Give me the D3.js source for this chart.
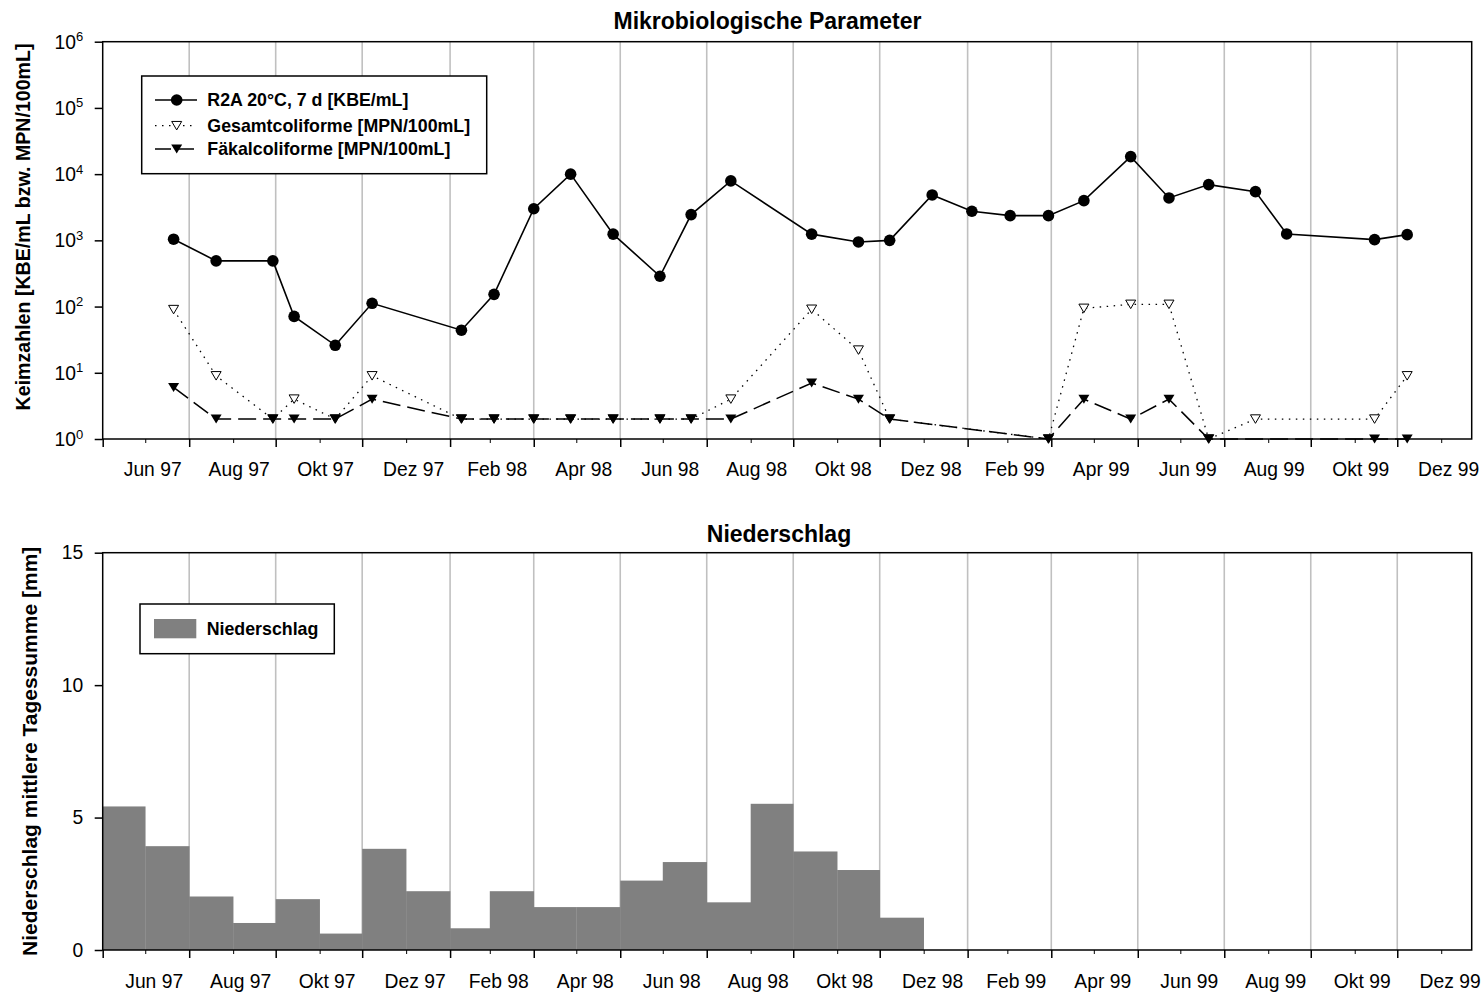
<!DOCTYPE html>
<html>
<head>
<meta charset="utf-8">
<script src="https://cdn.jsdelivr.net/npm/d3@7"></script>
<style>
  body { margin: 0; background: #fff; }
  text { font-family: "Liberation Sans", Arial, sans-serif; fill: #000; }
  .tick text { font-size: 19.3px; }
  .title { font-size: 23px; font-weight: bold; }
  .axis-label { font-weight: bold; }
  .legend { font-size: 17.8px; font-weight: bold; }
</style>
</head>
<body>
<svg width="1484" height="997"></svg>
<script>
const svg = d3.select('svg');

// sampling dates (top chart)
const sampleDates = ['1997-07-21','1997-08-20','1997-09-29','1997-10-14','1997-11-12','1997-12-08',
  '1998-02-09','1998-03-04','1998-04-01','1998-04-27','1998-05-27','1998-06-29','1998-07-21',
  '1998-08-18','1998-10-14','1998-11-16','1998-12-08','1999-01-07','1999-02-04','1999-03-03',
  '1999-03-30','1999-04-24','1999-05-27','1999-06-23','1999-07-21','1999-08-23','1999-09-14',
  '1999-11-15','1999-12-08'];

const r2a = [1040, 490, 490, 71, 26, 112, 44, 153, 3000, 10000, 1240, 287, 2450,
  7900, 1240, 946, 1000, 4850, 2750, 2360, 2360, 3980, 18400, 4370, 6950, 5440, 1250,
  1025, 1220];
const gesamt = [90, 9, 2, 4, 2, 9, 2, 2, 2, 2, 2, 2, 2,
  4, 91, 22, 2, null, null, null, 1, 94, 108, 108, 1, 2, null,
  2, 9];
const faekal = [6, 2, 2, 2, 2, 4, 2, 2, 2, 2, 2, 2, 2,
  2, 7, 4, 2, null, null, null, 1, 4, 2, 4, 1, null, null,
  1, 1];

// monthly precipitation (bottom chart)
const rainMonths = ['1997-06','1997-07','1997-08','1997-09','1997-10','1997-11','1997-12',
  '1998-01','1998-02','1998-03','1998-04','1998-05','1998-06','1998-07','1998-08',
  '1998-09','1998-10','1998-11','1998-12'];
const rain = [5.42, 3.92, 2.02, 1.02, 1.92, 0.62, 3.82, 2.22, 0.82, 2.22, 1.62, 1.62,
  2.62, 3.32, 1.8, 5.52, 3.72, 3.02, 1.22];

const xTickLabels = ['Jun 97','Aug 97','Okt 97','Dez 97','Feb 98','Apr 98','Jun 98','Aug 98',
  'Okt 98','Dez 98','Feb 99','Apr 99','Jun 99','Aug 99','Okt 99','Dez 99'];
const logTicks = [1, 10, 100, 1000, 10000, 100000, 1000000];
const rainTicks = [0, 5, 10, 15];

const parseDay = d3.timeParse('%Y-%m-%d');
const parseMonth = d3.timeParse('%Y-%m');

const left = 102.7, right = 1471.7;
const x = d3.scaleTime()
  .domain([new Date(1997, 5, 1), new Date(2000, 0, 22, 12)])
  .range([left, right]);

const majorTicks = d3.timeMonths(new Date(1997, 5, 1), new Date(2000, 0, 23), 2);
const minorTicks = d3.timeMonths(new Date(1997, 6, 1), new Date(2000, 0, 23), 2);
const labelTicks = d3.timeMonths(new Date(1997, 7, 1), new Date(2000, 1, 2), 2);

function drawFrame(top, bottom, labelOffset, labelDy) {
  const g = svg.append('g');
  // grid
  g.selectAll('line.grid').data(majorTicks.slice(1)).enter().append('line')
    .attr('x1', d => x(d)).attr('x2', d => x(d))
    .attr('y1', top).attr('y2', bottom)
    .attr('stroke', '#c0c0c0').attr('stroke-width', 1.6);

  const xAxisMajor = d3.axisBottom(x).tickValues(majorTicks).tickSize(8).tickFormat('');
  const xAxisMinor = d3.axisBottom(x).tickValues(minorTicks).tickSize(4).tickFormat('');
  const axG = svg.append('g').attr('transform', `translate(0,${bottom})`);
  axG.append('g').call(xAxisMajor).call(s => s.select('.domain').remove())
    .selectAll('line').attr('stroke-width', 1.5);
  axG.append('g').call(xAxisMinor).call(s => s.select('.domain').remove());

  axG.selectAll('text.xl').data(labelTicks).enter().append('text')
    .attr('class', 'xl')
    .attr('x', d => x(d) - labelOffset)
    .attr('y', labelDy)
    .attr('text-anchor', 'middle')
    .style('font-size', '19.3px')
    .text((d, i) => xTickLabels[i]);
  return g;
}

function drawBorder(top, bottom) {
  svg.append('rect')
    .attr('x', left).attr('y', top)
    .attr('width', right - left).attr('height', bottom - top)
    .attr('fill', 'none').attr('stroke', '#000').attr('stroke-width', 1.5);
}

// ---------- top chart ----------
const top1 = 41.7, bottom1 = 439;
const yLog = d3.scaleLog().domain([1, 1e6]).range([bottom1, top1]);

drawFrame(top1, bottom1, 36.5, 36.5);

const yAxisTop = d3.axisLeft(yLog).tickValues(logTicks).tickSize(8).tickFormat('');
const yTopG = svg.append('g').attr('transform', `translate(${left},0)`).call(yAxisTop);
yTopG.select('.domain').remove();
yTopG.selectAll('line').attr('stroke-width', 1.5);
logTicks.forEach(v => {
  const t = yTopG.append('text')
    .attr('x', -19.4)
    .attr('y', yLog(v) + 7)
    .attr('text-anchor', 'end');
  t.append('tspan').style('font-size', '19.3px').text('10');
  t.append('tspan').style('font-size', '13px').attr('dy', -7.5).text(Math.round(Math.log10(v)));
});

drawBorder(top1, bottom1);

const mkSeries = vals => sampleDates
  .map((d, i) => ({ date: parseDay(d), v: vals[i] }))
  .filter(d => d.v != null);

const line = y => d3.line().x(d => x(d.date)).y(d => y(d.v));

const r2aData = mkSeries(r2a);
const gesData = mkSeries(gesamt);
const faeData = mkSeries(faekal);

const plotG = svg.append('g');

const triDown = (w, h) => `M${-w / 2},${-h / 2}L${w / 2},${-h / 2}L0,${h / 2}Z`;

// R2A
plotG.append('path').datum(r2aData)
  .attr('d', line(yLog))
  .attr('fill', 'none').attr('stroke', '#000').attr('stroke-width', 1.6);
plotG.selectAll('circle.r2a').data(r2aData).enter().append('circle')
  .attr('class', 'r2a')
  .attr('cx', d => x(d.date)).attr('cy', d => yLog(d.v)).attr('r', 5.8)
  .attr('fill', '#000');

// Gesamtcoliforme
plotG.append('path').datum(gesData)
  .attr('d', line(yLog))
  .attr('fill', 'none').attr('stroke', '#000').attr('stroke-width', 1.3)
  .attr('stroke-dasharray', '1.5,5.5');
plotG.selectAll('path.ges').data(gesData).enter().append('path')
  .attr('class', 'ges')
  .attr('transform', d => `translate(${x(d.date)},${yLog(d.v)})`)
  .attr('d', triDown(10, 8.5))
  .attr('fill', '#fff').attr('stroke', '#000').attr('stroke-width', 1);

// Faekalcoliforme
plotG.append('path').datum(faeData)
  .attr('d', line(yLog))
  .attr('fill', 'none').attr('stroke', '#000').attr('stroke-width', 1.5)
  .attr('stroke-dasharray', '18,7');
plotG.selectAll('path.fae').data(faeData).enter().append('path')
  .attr('class', 'fae')
  .attr('transform', d => `translate(${x(d.date)},${yLog(d.v)})`)
  .attr('d', triDown(11, 9))
  .attr('fill', '#000');

// legend top
const legG = svg.append('g');
legG.append('rect')
  .attr('x', 141.7).attr('y', 76).attr('width', 345).attr('height', 97.7)
  .attr('fill', '#fff').attr('stroke', '#000').attr('stroke-width', 1.5);
const legRows = [
  { y: 100, label: 'R2A 20°C, 7 d [KBE/mL]', dash: null, w: 1.6 },
  { y: 125.7, label: 'Gesamtcoliforme [MPN/100mL]', dash: '1.5,5.5', w: 1.3 },
  { y: 149, label: 'Fäkalcoliforme [MPN/100mL]', dash: '16,7', w: 1.5 }
];
legRows.forEach((r, i) => {
  legG.append('line')
    .attr('x1', 155).attr('x2', 197).attr('y1', r.y).attr('y2', r.y)
    .attr('stroke', '#000').attr('stroke-width', r.w)
    .attr('stroke-dasharray', r.dash);
  if (i === 0) {
    legG.append('circle').attr('cx', 176.7).attr('cy', r.y).attr('r', 5.8).attr('fill', '#000');
  } else if (i === 1) {
    legG.append('path').attr('transform', `translate(176.7,${r.y})`)
      .attr('d', triDown(10, 8.5)).attr('fill', '#fff').attr('stroke', '#000');
  } else {
    legG.append('path').attr('transform', `translate(176.7,${r.y})`)
      .attr('d', triDown(11, 9)).attr('fill', '#000');
  }
  legG.append('text')
    .attr('class', 'legend')
    .attr('x', 207.3).attr('y', r.y + 6.3)
    .text(r.label);
});

svg.append('text')
  .attr('class', 'title')
  .attr('x', 767.5).attr('y', 29)
  .attr('text-anchor', 'middle')
  .text('Mikrobiologische Parameter');

svg.append('text')
  .attr('class', 'axis-label')
  .style('font-size', '19.6px')
  .attr('transform', `translate(29.5,43.5) rotate(-90)`)
  .attr('text-anchor', 'end')
  .text('Keimzahlen [KBE/mL bzw. MPN/100mL]');

// ---------- bottom chart ----------
const top2 = 552.7, bottom2 = 950;
const yLin = d3.scaleLinear().domain([0, 15]).range([bottom2, top2]);

drawFrame(top2, bottom2, 35, 37.8);

const rainData = rainMonths.map((m, i) => ({ start: parseMonth(m), v: rain[i] }));
svg.append('g').selectAll('rect').data(rainData).enter().append('rect')
  .attr('x', d => x(d.start))
  .attr('width', d => x(d3.timeMonth.offset(d.start, 1)) - x(d.start) + 0.3)
  .attr('y', d => yLin(d.v))
  .attr('height', d => yLin(0) - yLin(d.v))
  .attr('fill', '#808080');

const yAxisBot = d3.axisLeft(yLin).tickValues(rainTicks).tickSize(8).tickPadding(11.4);
const yBotG = svg.append('g').attr('transform', `translate(${left},0)`).call(yAxisBot);
yBotG.select('.domain').remove();
yBotG.selectAll('line').attr('stroke-width', 1.5);
yBotG.selectAll('text').style('font-size', '19.3px').attr('fill', '#000')
  .style('font-family', '"Liberation Sans", Arial, sans-serif');

drawBorder(top2, bottom2);

const leg2 = svg.append('g');
leg2.append('rect')
  .attr('x', 140).attr('y', 604).attr('width', 194.3).attr('height', 49.7)
  .attr('fill', '#fff').attr('stroke', '#000').attr('stroke-width', 1.5);
leg2.append('rect')
  .attr('x', 154).attr('y', 619).attr('width', 42.3).attr('height', 19.3)
  .attr('fill', '#808080');
leg2.append('text')
  .attr('class', 'legend')
  .attr('x', 206.7).attr('y', 635)
  .text('Niederschlag');

svg.append('text')
  .attr('class', 'title')
  .attr('x', 779).attr('y', 542)
  .attr('text-anchor', 'middle')
  .text('Niederschlag');

svg.append('text')
  .attr('class', 'axis-label')
  .style('font-size', '21px')
  .attr('transform', `translate(36.7,546.7) rotate(-90)`)
  .attr('text-anchor', 'end')
  .text('Niederschlag mittlere Tagessumme [mm]');
</script>
</body>
</html>
